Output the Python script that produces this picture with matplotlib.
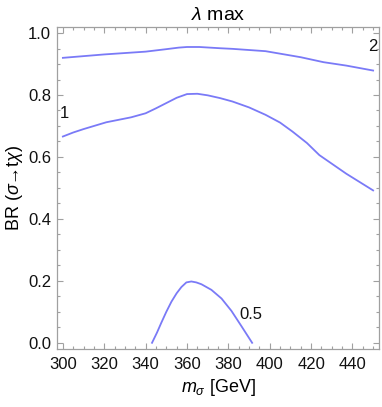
import matplotlib
matplotlib.use("Agg")
import matplotlib.pyplot as plt
from matplotlib.ticker import MultipleLocator

plt.rcParams['font.family'] = ['Liberation Sans', 'DejaVu Sans']
plt.rcParams['mathtext.fontset'] = 'custom'
plt.rcParams['mathtext.rm'] = 'Liberation Sans'
plt.rcParams['mathtext.it'] = 'Liberation Sans:italic'
plt.rcParams['mathtext.bf'] = 'Liberation Sans:bold'

# curve "2"
x_2 = [300, 320, 340, 350, 356, 360, 366, 376, 382, 398, 415, 426, 437, 450]
y_2 = [0.920, 0.931, 0.940, 0.948, 0.953, 0.955, 0.955, 0.951, 0.949, 0.9415, 0.922, 0.906, 0.895, 0.879]
# curve "1"
x_1 = [300, 305, 310, 321, 333, 340, 345, 350, 355, 360, 365, 370, 376, 382, 390, 398, 405, 411, 418, 424, 437, 450]
y_1 = [0.666, 0.679, 0.690, 0.712, 0.728, 0.741, 0.757, 0.774, 0.791, 0.803, 0.804, 0.799, 0.790, 0.779, 0.760, 0.736, 0.711, 0.682, 0.645, 0.606, 0.546, 0.492]
# curve "0.5"
x_05 = [343.1, 345.5, 347.6, 350.0, 352.5, 355.0, 357.3, 359.7, 362.1, 364.5, 367.0, 371.8, 376.7, 381.5, 386.3, 391.5]
y_05 = [0.0, 0.033, 0.065, 0.100, 0.133, 0.160, 0.180, 0.195, 0.198, 0.195, 0.189, 0.171, 0.143, 0.103, 0.054, 0.0]

labels = ["1", "2", "0.5"]
label_x = [300.5, 449.8, 391.0]
label_y = [0.741, 0.955, 0.092]

color = '#7a7af7'
frame = '#a0a0a0'
fs = 12

fig = plt.figure(figsize=(3.82, 4.07), dpi=100)
ax = fig.add_axes([0.1484, 0.1425, 0.993 - 0.1484, 0.934 - 0.1425])

for xs, ys in [(x_2, y_2), (x_1, y_1), (x_05, y_05)]:
    ax.plot(xs, ys, color=color, lw=1.3, solid_joinstyle='round')

for t, lx, ly in zip(labels, label_x, label_y):
    ax.text(lx, ly, t, fontsize=fs, ha='center', va='center', color='#111111')

ax.set_xlim(297, 453)
ax.set_ylim(-0.02, 1.02)
ax.xaxis.set_minor_locator(MultipleLocator(5))
ax.yaxis.set_minor_locator(MultipleLocator(0.05))
ax.set_xticks([300, 320, 340, 360, 380, 400, 420, 440])
ax.set_yticks([0.0, 0.2, 0.4, 0.6, 0.8, 1.0])
ax.set_yticklabels(['0.0', '0.2', '0.4', '0.6', '0.8', '1.0'])

for s in ax.spines.values():
    s.set_color(frame)
    s.set_linewidth(0.9)
ax.tick_params(which='both', direction='in', top=True, right=True, color=frame, width=0.8,
               labelsize=fs, labelcolor='#111111')
ax.tick_params(which='major', length=4.5)
ax.tick_params(which='minor', length=2.5)
ax.tick_params(axis='x', which='major', pad=6)
ax.tick_params(axis='y', which='major', pad=4)

ax.set_title(r'$\lambda$ max', fontsize=14, pad=5)
ax.set_xlabel(r'$m_\sigma$ [GeV]', fontsize=13, labelpad=3)
ax.set_ylabel(r'BR ($\sigma$→t$\chi$)', fontsize=13, labelpad=2)

fig.savefig('out.png', dpi=100)
